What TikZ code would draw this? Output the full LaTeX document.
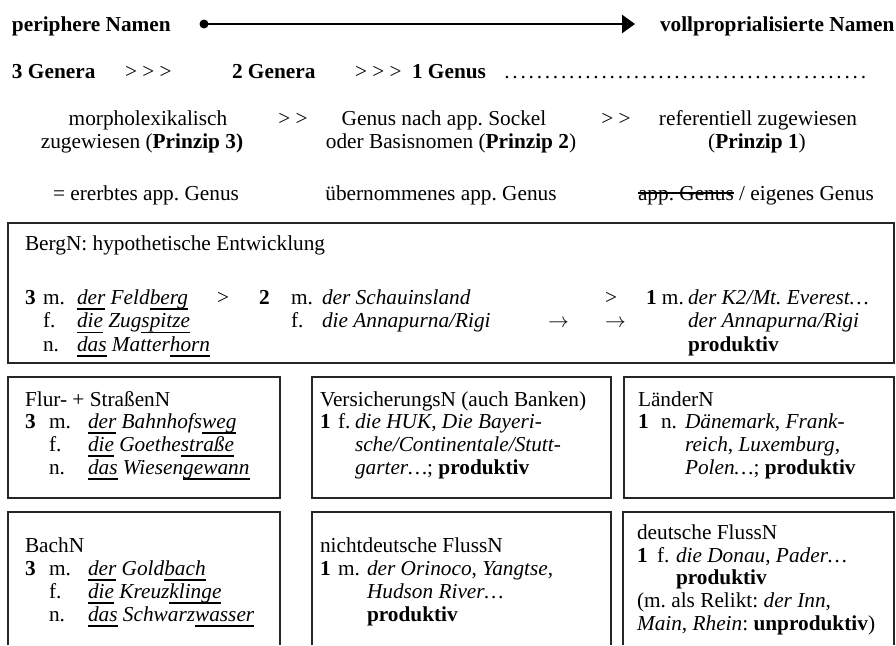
\documentclass[tikz,border=0pt]{standalone}
\usepackage{fontspec}
\setmainfont{Liberation Serif}
\usetikzlibrary{arrows.meta}
\newcommand\uln[1]{\setbox0\hbox{#1}\rlap{\rule[-0.26em]{\wd0}{0.06em}}\box0\relax}
\newcommand\strk[1]{\setbox0\hbox{#1}\rlap{\rule[0.3em]{\wd0}{0.06em}}\box0\relax}
\tikzset{
  tx/.style={anchor=base west,inner sep=0pt,outer sep=0pt},
  tc/.style={anchor=base,inner sep=0pt,outer sep=0pt},
  boxst/.style={draw=black!85,line width=1.3pt},
}
\frenchspacing
\begin{document}
\begin{tikzpicture}[x=1pt,y=-1pt,font=\fontsize{21.3}{23}\selectfont\frenchspacing]
\useasboundingbox (0,0) rectangle (896,645);
% header row 1
\node[tx] (pn) at (12,31) {\bfseries periphere Namen};
\node[tx] (vn) at (660,31) {\bfseries vollproprialisierte Namen};
\coordinate (arrS) at (204,24);
\coordinate (arrE) at (635,24);
\draw[line width=2.7pt,-{Triangle[length=13pt,width=18pt]}] (arrS) -- (arrE);
\fill (arrS) circle (4.5pt);
% header row 2
\node[tx] (g3) at (12,78) {\bfseries 3 Genera};
\node[tx] (c1) at (125,78) {> > >};
\node[tx] (g2) at (232,78) {\bfseries 2 Genera};
\node[tx] (c2) at (355,78) {> > >};
\node[tx] (g1) at (412,78) {\bfseries 1 Genus};
\node[tx] (dots) at (503,78) {\hbox to 372pt{\leaders\hbox to 8.1pt{\hss.\hss}\hfill}};
% header row 3
\node[tc] (p3a) at (148,125) {morpholexikalisch};
\node[tc] (p3b) at (142,148) {zugewiesen (\textbf{Prinzip 3)}};
\node[tc] (d1) at (293,125) {> >};
\node[tc] (p2a) at (444,125) {Genus nach app. Sockel};
\node[tc] (p2b) at (451,148) {oder Basisnomen (\textbf{Prinzip 2})};
\node[tc] (d2) at (616,125) {> >};
\node[tc] (p1a) at (758,125) {referentiell zugewiesen};
\node[tc] (p1b) at (757,148) {(\textbf{Prinzip 1})};
% header row 4
\node[tc] (e3) at (146,200) {= ererbtes app. Genus};
\node[tc] (e2) at (441,200) {übernommenes app. Genus};
\node[tc] (e1) at (756,200) {\strk{app. Genus} / eigenes Genus};
% BergN box
\draw[boxst] (8,223) rectangle (894,363);
\node[tx] (bt) at (25,250) {BergN: hypothetische Entwicklung};
\node[tx] (b3) at (25,304) {\bfseries 3};
\node[tx] (bm1) at (43,304) {m.};
\node[tx] (bm1t) at (77,304) {\itshape\uln{der} Feld\uln{berg}};
\node[tx] (bgt1) at (217,304) {>};
\node[tx] (b2) at (259,304) {\bfseries 2};
\node[tx] (bm2) at (291,304) {m.};
\node[tx] (bm2t) at (322,304) {\itshape der Schauinsland};
\node[tx] (bgt2) at (605,304) {>};
\node[tx] (b1) at (646,304) {\textbf{1} m.};
\node[tx] (bm3t) at (688,304) {\itshape der K2/Mt. Everest…};
\node[tx] (bf1) at (43,327.5) {f.};
\node[tx] (bf1t) at (77,327.5) {\itshape\uln{die} Zug\uln{spitze}};
\node[tx] (bf2) at (291,327.5) {f.};
\node[tx] (bf2t) at (322,327.5) {\itshape die Annapurna/Rigi};
\node[tx] (ba1) at (548,327.5) {\ensuremath{\rightarrow}};
\node[tx] (ba2) at (605,327.5) {\ensuremath{\rightarrow}};
\node[tx] (bf3t) at (688,327.5) {\itshape der Annapurna/Rigi};
\node[tx] (bn1) at (43,351) {n.};
\node[tx] (bn1t) at (77,351) {\itshape\uln{das} Matter\uln{horn}};
\node[tx] (bprod) at (688,351) {\bfseries produktiv};
% row 1 boxes
\draw[boxst] (8,377) rectangle (280,498);
\draw[boxst] (312,377) rectangle (611,498);
\draw[boxst] (624,377) rectangle (894,498);
\node[tx] (at) at (25,406) {Flur- + StraßenN};
\node[tx] (a3) at (25,428) {\bfseries 3};
\node[tx] (am) at (49,428) {m.};
\node[tx] (amt) at (88,428) {\itshape\uln{der} Bahnhofs\uln{weg}};
\node[tx] (af) at (49,451) {f.};
\node[tx] (aft) at (88,451) {\itshape\uln{die} Goethe\uln{straße}};
\node[tx] (an) at (49,474) {n.};
\node[tx] (ant) at (88,474) {\itshape\uln{das} Wiesen\uln{gewann}};
\node[tx] (vt) at (320,406) {VersicherungsN (auch Banken)};
\node[tx] (v1) at (320,428) {\bfseries 1};
\node[tx] (vf) at (338,428) {f.};
\node[tx] (vl1) at (355,428) {\textit{die HUK}, \textit{Die Bayeri-}};
\node[tx] (vl2) at (355,451) {\itshape sche/Continentale/Stutt-};
\node[tx] (vl3) at (355,474) {\textit{garter…}; \textbf{produktiv}};
\node[tx] (lt) at (638,406) {LänderN};
\node[tx] (l1) at (638,428) {\bfseries 1};
\node[tx] (ln) at (661,428) {n.};
\node[tx] (ll1) at (685,428) {\textit{Dänemark}, \textit{Frank-}};
\node[tx] (ll2) at (685,451) {\textit{reich}, \textit{Luxemburg},};
\node[tx] (ll3) at (685,474) {\textit{Polen…}; \textbf{produktiv}};
% row 2 boxes (open at the bottom)
\draw[boxst] (8,645) -- (8,512) -- (280,512) -- (280,645);
\draw[boxst] (312,645) -- (312,512) -- (611,512) -- (611,645);
\draw[boxst] (623,645) -- (623,512) -- (894,512) -- (894,645);
\node[tx] (ct) at (25,552) {BachN};
\node[tx] (c3) at (25,575) {\bfseries 3};
\node[tx] (cm) at (49,575) {m.};
\node[tx] (cmt) at (88,575) {\itshape\uln{der} Gold\uln{bach}};
\node[tx] (cf) at (49,598) {f.};
\node[tx] (cft) at (88,598) {\itshape\uln{die} Kreuz\uln{klinge}};
\node[tx] (cn) at (49,621) {n.};
\node[tx] (cnt) at (88,621) {\itshape\uln{das} Schwarz\uln{wasser}};
\node[tx] (nt) at (320,552) {nichtdeutsche FlussN};
\node[tx] (n1) at (320,575) {\bfseries 1};
\node[tx] (nm) at (338,575) {m.};
\node[tx] (nl1) at (367,575) {\textit{der Orinoco}, \textit{Yangtse},};
\node[tx] (nl2) at (367,598) {\itshape Hudson River…};
\node[tx] (nl3) at (367,621) {\bfseries produktiv};
\node[tx] (ft) at (637,539) {deutsche FlussN};
\node[tx] (f1) at (637,562) {\bfseries 1};
\node[tx] (ff) at (657,562) {f.};
\node[tx] (fl1) at (676,562) {\textit{die Donau}, \textit{Pader…}};
\node[tx] (fl2) at (676,584) {\bfseries produktiv};
\node[tx] (fl3) at (637,607) {(m. als Relikt: \textit{der Inn},};
\node[tx] (fl4) at (637,630) {\textit{Main}, \textit{Rhein}: \textbf{unproduktiv})};
\end{tikzpicture}
\end{document}
